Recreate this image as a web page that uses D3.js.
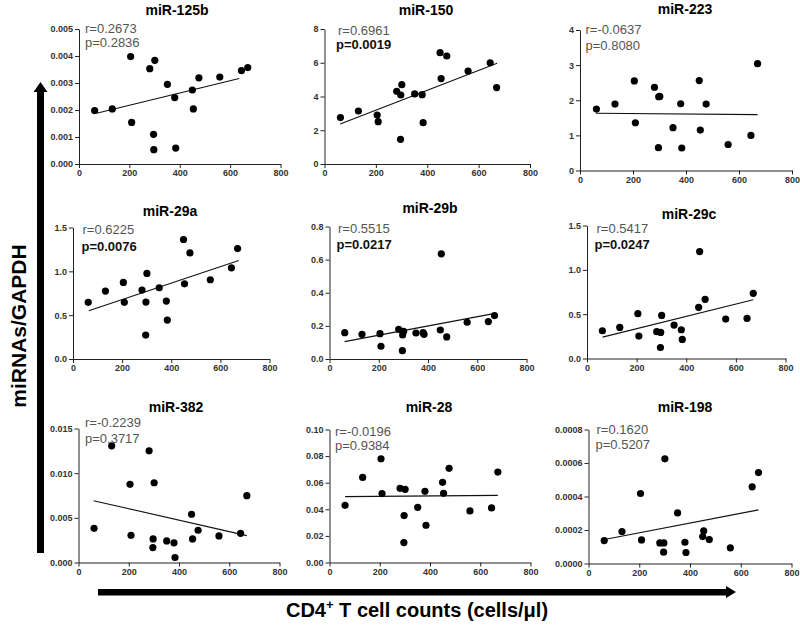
<!DOCTYPE html>
<html>
<head>
<meta charset="utf-8">
<script src="https://cdn.jsdelivr.net/npm/d3@7"></script>
<style>
  html, body { margin: 0; padding: 0; background: #fff; }
  svg { display: block; }
  .tick text { font-family: "Liberation Sans", Arial, sans-serif; font-weight: bold; font-size: 9px; fill: #333; }
  .domain, .tick line { stroke: #222; stroke-width: 1; }
</style>
</head>
<body>
<svg id="chart" width="800" height="631"></svg>
<script>
// ---- Data ----
const cd4 = [62, 132, 205, 209, 281, 296, 297, 301, 351, 380, 384, 450, 454, 476, 559, 645, 670];

const mirNames = ["miR-125b", "miR-150", "miR-223", "miR-29a", "miR-29b", "miR-29c", "miR-382", "miR-28", "miR-198"];

const mir125b = [0.00198, 0.00204, 0.00398, 0.00154, 0.00353, 0.00110, 0.00053, 0.00384, 0.00295, 0.00246, 0.00059, 0.00274, 0.00204, 0.00319, 0.00322, 0.00346, 0.00357];
const mir150  = [2.75, 3.14, 2.90, 2.51, 4.31, 1.46, 4.09, 4.70, 4.15, 4.11, 2.45, 6.60, 5.06, 6.40, 5.51, 6.00, 4.53];
const mir223  = [1.75, 1.89, 2.55, 1.36, 2.37, 0.65, 2.10, 2.11, 1.22, 1.90, 0.64, 2.56, 1.15, 1.89, 0.74, 1.00, 3.04];
const mir29a  = [0.646, 0.775, 0.873, 0.646, 0.786, 0.273, 0.649, 0.976, 0.813, 0.661, 0.444, 1.363, 0.858, 1.210, 0.904, 1.040, 1.260];
const mir29b  = [0.159, 0.149, 0.153, 0.077, 0.179, 0.050, 0.145, 0.167, 0.157, 0.159, 0.149, 0.175, 0.635, 0.133, 0.222, 0.226, 0.262];
const mir29c  = [0.313, 0.351, 0.505, 0.253, 0.302, 0.124, 0.294, 0.486, 0.377, 0.324, 0.215, 0.577, 1.206, 0.667, 0.445, 0.452, 0.735];
const mir382  = [0.00383, 0.01306, 0.00875, 0.00305, 0.01250, 0.00167, 0.00264, 0.00893, 0.00242, 0.00220, 0.00056, 0.00540, 0.00264, 0.00361, 0.00298, 0.00327, 0.00748];
const mir28   = [0.0430, 0.0640, 0.0780, 0.0518, 0.0558, 0.0150, 0.0353, 0.0550, 0.0415, 0.0535, 0.0280, 0.0603, 0.0520, 0.0708, 0.0388, 0.0410, 0.0680];
const mir198  = [0.000137, 0.000191, 0.000418, 0.000141, 0.000123, 0.0000677, 0.000123, 0.000625, 0.000302, 0.000127, 0.0000657, 0.000161, 0.000195, 0.000143, 0.0000935, 0.000458, 0.000543];

const seriesValues = [mir125b, mir150, mir223, mir29a, mir29b, mir29c, mir382, mir28, mir198];

// regression line end points: [xStart, yStart, xEnd, yEnd]
const fitLines = [
  [70, 0.00188, 636, 0.00317],
  [61, 2.37, 672, 5.97],
  [60, 1.63, 670, 1.59],
  [64, 0.551, 675, 1.124],
  [61, 0.105, 667, 0.274],
  [63, 0.241, 670, 0.663],
  [60, 0.00692, 670, 0.00301],
  [62, 0.0495, 670, 0.0505],
  [68, 0.000145, 670, 0.000320]
];

const rLabels = ["r=0.2673", "r=0.6961", "r=-0.0637", "r=0.6225", "r=0.5515", "r=0.5417", "r=-0.2239", "r=-0.0196", "r=0.1620"];
const pLabels = ["p=0.2836", "p=0.0019", "p=0.8080", "p=0.0076", "p=0.0217", "p=0.0247", "p=0.3717", "p=0.9384", "p=0.5207"];
const pSignificant = [false, true, false, true, true, true, false, false, false];

const yMaxima   = [0.005, 8, 4, 1.5, 0.8, 1.5, 0.015, 0.10, 0.0008];
const ySteps    = [0.001, 2, 1, 0.5, 0.2, 0.5, 0.005, 0.02, 0.0002];
const yDecimals = [3, 0, 0, 1, 1, 1, 3, 2, 4];
const xTicks = [0, 200, 400, 600, 800];

const yAxisLabel = "miRNAs/GAPDH";
const xAxisLabelMain = "CD4";
const xAxisLabelSup = "+";
const xAxisLabelRest = " T cell counts (cells/μl)";

// ---- Layout (pixels) ----
// [xLeft, xRight, yTop, yBottom, titleX, titleY, rX, rY, pX, pY]
const layout = [
  [79, 280.5, 29, 164, 177, 15, 85, 33, 85, 47],
  [324.5, 530, 29, 164, 426, 15, 338, 35, 336, 49],
  [580, 792, 30, 170.5, 685, 14, 585.5, 34, 585.5, 50],
  [73, 269.5, 227.5, 359, 170, 216, 82.5, 234, 81.5, 251],
  [329.5, 526.5, 226.5, 359, 430, 213, 338, 233, 336.5, 249],
  [587, 785.5, 225.5, 358.5, 689, 219, 596.5, 233, 594.5, 249],
  [78.5, 279.5, 428.5, 562.5, 176, 412, 85, 427, 85, 443],
  [329.5, 530.5, 429.5, 562.5, 429, 412, 335, 436, 335, 450],
  [588.5, 791.5, 429.5, 563.5, 685, 412, 596.5, 434, 595.5, 449]
];

const svg = d3.select("#chart");
const FONT = '"Liberation Sans", Arial, sans-serif';

seriesValues.forEach((vals, i) => {
  const L = layout[i];
  const x = d3.scaleLinear().domain([0, 800]).range([L[0], L[1]]);
  const y = d3.scaleLinear().domain([0, yMaxima[i]]).range([L[3], L[2]]);
  const g = svg.append("g");

  const yTicks = d3.range(0, yMaxima[i] + ySteps[i] / 2, ySteps[i]);
  g.append("g")
    .attr("transform", `translate(${L[0]},0)`)
    .call(d3.axisLeft(y).tickValues(yTicks).tickSize(4).tickSizeOuter(0).tickPadding(2)
      .tickFormat(d3.format(`.${yDecimals[i]}f`)));
  g.append("g")
    .attr("transform", `translate(0,${L[3]})`)
    .call(d3.axisBottom(x).tickValues(xTicks).tickSize(4).tickSizeOuter(0).tickPadding(2)
      .tickFormat(d3.format("d")));

  // regression line
  const f = fitLines[i];
  g.append("line")
    .attr("x1", x(f[0])).attr("y1", y(f[1]))
    .attr("x2", x(f[2])).attr("y2", y(f[3]))
    .attr("stroke", "#111").attr("stroke-width", 1.1);

  // points
  g.selectAll("circle.pt").data(vals).enter().append("circle")
    .attr("class", "pt")
    .attr("cx", (d, j) => x(cd4[j]))
    .attr("cy", d => y(d))
    .attr("r", 3.6)
    .attr("fill", "#000");

  // title
  g.append("text")
    .attr("x", L[4]).attr("y", L[5])
    .attr("text-anchor", "middle")
    .attr("font-family", FONT).attr("font-weight", "bold").attr("font-size", 14)
    .attr("fill", "#000")
    .text(mirNames[i]);

  // r and p
  g.append("text")
    .attr("x", L[6]).attr("y", L[7])
    .attr("font-family", FONT).attr("font-size", 13)
    .attr("fill", "#555")
    .text(rLabels[i]);
  g.append("text")
    .attr("x", L[8]).attr("y", L[9])
    .attr("font-family", FONT).attr("font-size", 13)
    .attr("font-weight", pSignificant[i] ? "bold" : "normal")
    .attr("fill", pSignificant[i] ? "#111" : "#555")
    .text(pLabels[i]);
});

// ---- Big arrows ----
// vertical arrow
svg.append("rect").attr("x", 37).attr("y", 90).attr("width", 7).attr("height", 463).attr("fill", "#000");
svg.append("path").attr("d", "M40.5,82 L47.5,92 L33.5,92 Z").attr("fill", "#000");
// horizontal arrow
svg.append("rect").attr("x", 98).attr("y", 589).attr("width", 630).attr("height", 6.5).attr("fill", "#000");
svg.append("path").attr("d", "M736,592 L726,586 L726,598 Z").attr("fill", "#000");

// axis titles
svg.append("text")
  .attr("transform", "translate(26,326) rotate(-90)")
  .attr("text-anchor", "middle")
  .attr("font-family", FONT).attr("font-weight", "bold").attr("font-size", 21)
  .attr("fill", "#000")
  .text(yAxisLabel);

const xl = svg.append("text")
  .attr("x", 417).attr("y", 617)
  .attr("text-anchor", "middle")
  .attr("font-family", FONT).attr("font-weight", "bold").attr("font-size", 20)
  .attr("fill", "#000");
xl.append("tspan").text(xAxisLabelMain);
xl.append("tspan").attr("dy", -8).attr("font-size", 13).text(xAxisLabelSup);
xl.append("tspan").attr("dy", 8).text(xAxisLabelRest);
</script>
</body>
</html>
